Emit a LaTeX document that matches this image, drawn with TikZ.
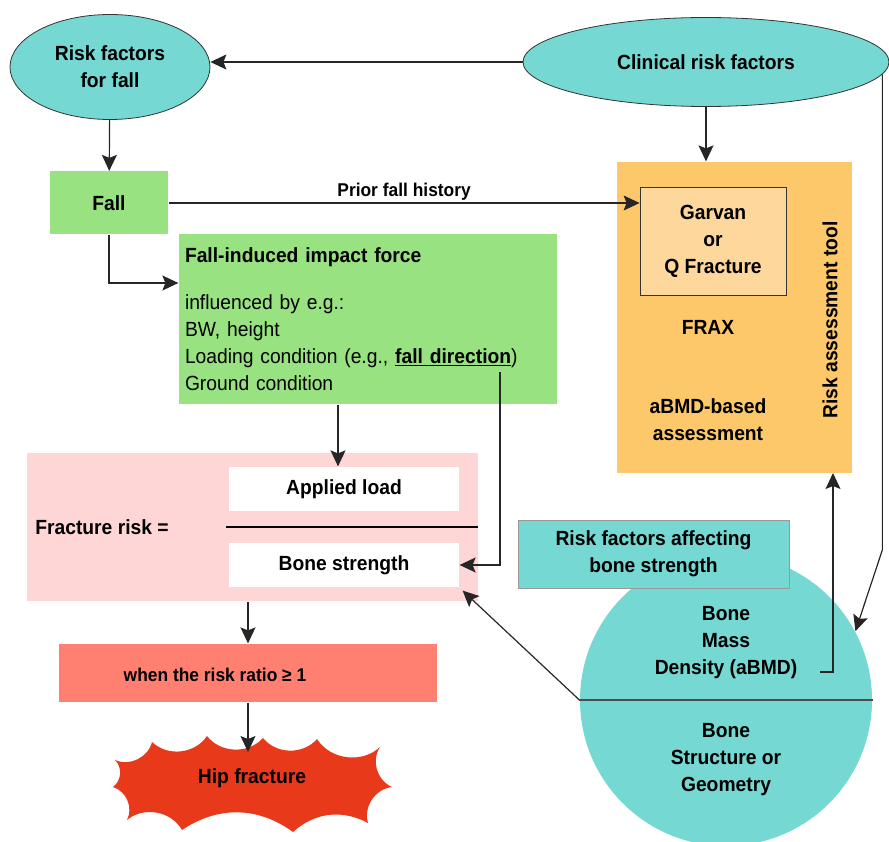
\documentclass[tikz,border=0pt]{standalone}
\usepackage{fontspec}
\setmainfont{Liberation Sans}[FakeStretch=0.94]
\usetikzlibrary{arrows.meta,shapes.geometric}
\definecolor{riskteal}{HTML}{75D8D3}
\definecolor{fallgreen}{HTML}{98E281}
\definecolor{riskpink}{HTML}{FFD6D6}
\definecolor{ratiored}{HTML}{FF7F71}
\definecolor{hipred}{HTML}{E8391A}
\definecolor{toolorange}{HTML}{FDC86A}
\definecolor{garvanorange}{HTML}{FDD79B}

\begin{document}
\begin{tikzpicture}[x=1pt, y=-1pt, line width=1.2pt,
    every node/.style={font=\fontsize{20.5}{27}\selectfont\bfseries, align=center, inner sep=2pt},
    arr/.style={-{Stealth[length=16pt,width=15pt,inset=3pt]}, draw=black!85},
    oval/.style={ellipse, draw=black!80, line width=0.8pt, fill=riskteal},
    small/.style={font=\fontsize{18.5}{22}\selectfont\bfseries}]

    \useasboundingbox (0,0) rectangle (889,842);

    \node[oval, minimum width=200pt, minimum height=105pt] (a) at (110,67) {Risk factors\\for fall};
    \node[oval, minimum width=366pt, minimum height=89pt] (b) at (706,62) {Clinical risk factors};
    \node[fill=fallgreen, minimum width=118pt, minimum height=63pt] (c) at (109,203) {Fall};
    \node[fill=fallgreen, text width=366pt, inner xsep=6pt, align=left, minimum height=170pt] (d) at (368,319)
        {Fall-induced impact force\\[20pt]\mdseries influenced by e.g.:\\ \mdseries BW, height\\
         \mdseries Loading condition (e.g., \underline{\bfseries fall direction})\\ \mdseries Ground condition};
    \node[fill=riskpink, minimum width=451pt, minimum height=148pt] (e) at (252.5,527) {};
    \node[fill=white, minimum width=230pt, minimum height=44pt] (f) at (344,489) {Applied load};
    \node[fill=white, minimum width=230pt, minimum height=44pt] (g) at (344,565) {Bone strength};
    \node (h) at (102,527) {Fracture risk =};
    \draw[line width=1.4pt] (226,527) -- (478,527);
    \node[fill=ratiored, minimum width=378pt, minimum height=58pt] (i) at (248,673) {};
    \node[small] (j) at (215,675) {when the risk ratio ≥ 1};
    \fill[hipred] (152,742) to[bend right=50] (207,736) to[bend right=50] (263,738) to[bend right=50] (317,739)
        to[bend right=50] (380,747) to[bend right=50] (392,787) to[bend right=50] (368,823)
        to[bend right=35] (293,832) to[bend right=35] (182,830) to[bend right=50] (127,820)
        to[bend right=50] (113,787) to[bend right=50] (115,760) to[bend right=50] cycle;
    \node (k) at (252,778) {Hip fracture};
    \coordinate (kt) at (248,752);

    \node[fill=toolorange, minimum width=235pt, minimum height=311pt] (l) at (734.5,317.5) {};
    \node[fill=garvanorange, draw=black!80, line width=0.8pt, minimum width=146pt, minimum height=108pt] (m) at (713,241) {Garvan\\or\\Q Fracture};
    \node (n) at (708,327) {FRAX};
    \node (o) at (708,420) {aBMD-based\\assessment};
    \node[rotate=90] (p) at (830,320) {Risk assessment tool};

    \node[circle, fill=riskteal, minimum size=292pt] (q) at (726,700) {};
    \draw[line width=1.6pt, black!70] (q.west) -- (q.east);
    \node[fill=riskteal, draw=black!40, line width=0.8pt, minimum width=271pt, minimum height=68pt] (r) at (653.5,554) {Risk factors affecting\\bone strength};
    \node (s) at (726,643) {Bone\\Mass\\Density (aBMD)};
    \node (t) at (726,760) {Bone\\Structure or\\Geometry};

    \coordinate (u) at (878,550);
    \coordinate (v) at (500,372);
    \coordinate (w) at (833,473);
    \coordinate (z) at (820,672);
    \coordinate (fn) at ([xshift=-6pt]f.north);

    \draw[arr] (b.west) -- (a.east |- b.west);
    \draw[arr] (b.south) -- (b.south |- l.north);
    \draw[arr] (b.-4.6) -- (b.-4.6 |- u) -- (q.28);
    \draw[arr] (a) -- (c);
    \draw[arr] (c.east) -- node[above, small] (x) {Prior fall history} (c.east -| m.west);
    \draw[arr] (c.south) |- ([yshift=36pt]d.west);
    \draw[arr] (fn |- d.south) -- (fn);
    \draw[arr] (v) |- (g.east);
    \draw[arr] (q.west) -- ([shift={(3pt,-3pt)}]g.south east);
    \draw[arr] (i.north |- e.south) -- (i.north);
    \draw[arr] (i.south) -- (kt);
    \draw[arr] (z) -| (w);

\end{tikzpicture}
\end{document}
